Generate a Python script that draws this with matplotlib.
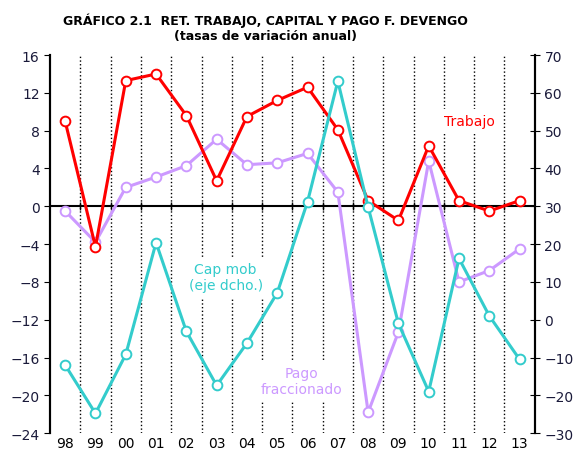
# coding:UTF-8
"""
功能：绘制劳动报酬、资本与预缴税款的年变化率
参数：年份years，劳动trabajo，预缴pago，资本cap_mob
输出：双纵轴折线图 out.png
说明：左轴为劳动与预缴（%），右轴为动产资本（%），右轴 = 30 + 2.5 * 左轴
"""
import matplotlib.pyplot as plt
import numpy as np


class GraficoDevengo:
    rojo = '#FF0000'  # 劳动线颜色
    lila = '#CC99FF'  # 预缴线颜色
    turquesa = '#33CCCC'  # 资本线颜色

    def __init__(self):
        self.years = ['98', '99', '00', '01', '02', '03', '04', '05',
                      '06', '07', '08', '09', '10', '11', '12', '13']  # 横轴年份
        self.trabajo = np.array([9.0, -4.3, 13.3, 14.0, 9.6, 2.7, 9.5, 11.2,
                                 12.6, 8.1, 0.6, -1.5, 6.4, 0.6, -0.5, 0.6])  # 左轴
        self.pago = np.array([-0.5, -3.8, 2.0, 3.1, 4.3, 7.1, 4.4, 4.6,
                              5.6, 1.5, -21.8, -13.3, 4.8, -8.0, -6.8, -4.5])  # 左轴
        self.cap_mob = np.array([-12.0, -24.8, -9.2, 20.4, -3.1, -17.4, -6.2, 7.1,
                                 31.2, 63.1, 29.8, -1.0, -19.0, 16.2, 1.0, -10.5])  # 右轴
        self.x = np.arange(len(self.years))

    def plotshow(self):
        # 创建画布对象
        fig = plt.figure(figsize=(5.75, 4.56), dpi=100)
        ax = fig.add_axes([0.087, 0.048, 0.843, 0.829])
        ax2 = ax.twinx()

        # 标题
        fig.text(0.461, 0.954, 'GRÁFICO 2.1  RET. TRABAJO, CAPITAL Y PAGO F. DEVENGO',
                 ha='center', va='center', fontsize=9, fontweight='bold')
        fig.text(0.461, 0.921, '(tasas de variación anual)',
                 ha='center', va='center', fontsize=9, fontweight='bold')

        # 年份之间的点状分隔线
        for b in self.x[:-1] + 0.5:
            ax.axvline(b, color='black', linestyle=':', linewidth=1.0, zorder=1)
        ax.axhline(0, color='black', linewidth=1.5, zorder=2)
        ax.scatter(self.x[:-1] + 0.5, np.zeros(len(self.x) - 1), marker='|', s=40,
                   color='black', linewidths=1.0, zorder=2)

        # 文字标注，白底遮住分隔线
        caja = dict(facecolor='white', edgecolor='none', pad=4)
        ax.text(13.35, 9.0, 'Trabajo', color=self.rojo, fontsize=10,
                ha='center', va='center', bbox=caja, zorder=3)
        ax.text(5.3, -7.5, 'Cap mob\n(eje dcho.)', color=self.turquesa, fontsize=10,
                ha='center', va='center', bbox=caja, zorder=3)
        ax.text(7.8, -18.5, 'Pago\nfraccionado', color=self.lila, fontsize=10,
                ha='center', va='center', bbox=caja, zorder=3)

        # 折线
        estilo = dict(linewidth=2.2, marker='o', markersize=7,
                      markerfacecolor='white', markeredgewidth=1.4)
        ax.plot(self.x, self.pago, color=self.lila, zorder=4, **estilo)
        ax.plot(self.x, self.trabajo, color=self.rojo, zorder=5, **estilo)
        ax2.plot(self.x, self.cap_mob, color=self.turquesa, zorder=5, **estilo)

        # 坐标轴设置
        ax.set_xlim(-0.5, 15.5)
        ax.set_ylim(-24, 16)
        ax.set_yticks(np.arange(-24, 17, 4))
        ax2.set_ylim(-30, 70)
        ax2.set_yticks(np.arange(-30, 71, 10))
        ax.set_xticks(self.x)
        ax.set_xticklabels(self.years)
        ax.tick_params(axis='x', length=0, pad=2, labelsize=10)
        ax.tick_params(axis='y', direction='out', length=4, labelsize=10,
                       labelcolor='#1a1a3a')
        ax2.tick_params(axis='y', direction='inout', length=7, labelsize=10,
                        labelcolor='#1a1a3a')
        for a in (ax, ax2):
            a.spines['top'].set_visible(False)
            a.spines['bottom'].set_visible(False)
            a.spines['left'].set_linewidth(1.5)
            a.spines['right'].set_linewidth(1.5)

        fig.savefig('out.png', dpi=100)


if __name__ == '__main__':
    g = GraficoDevengo()
    g.plotshow()
